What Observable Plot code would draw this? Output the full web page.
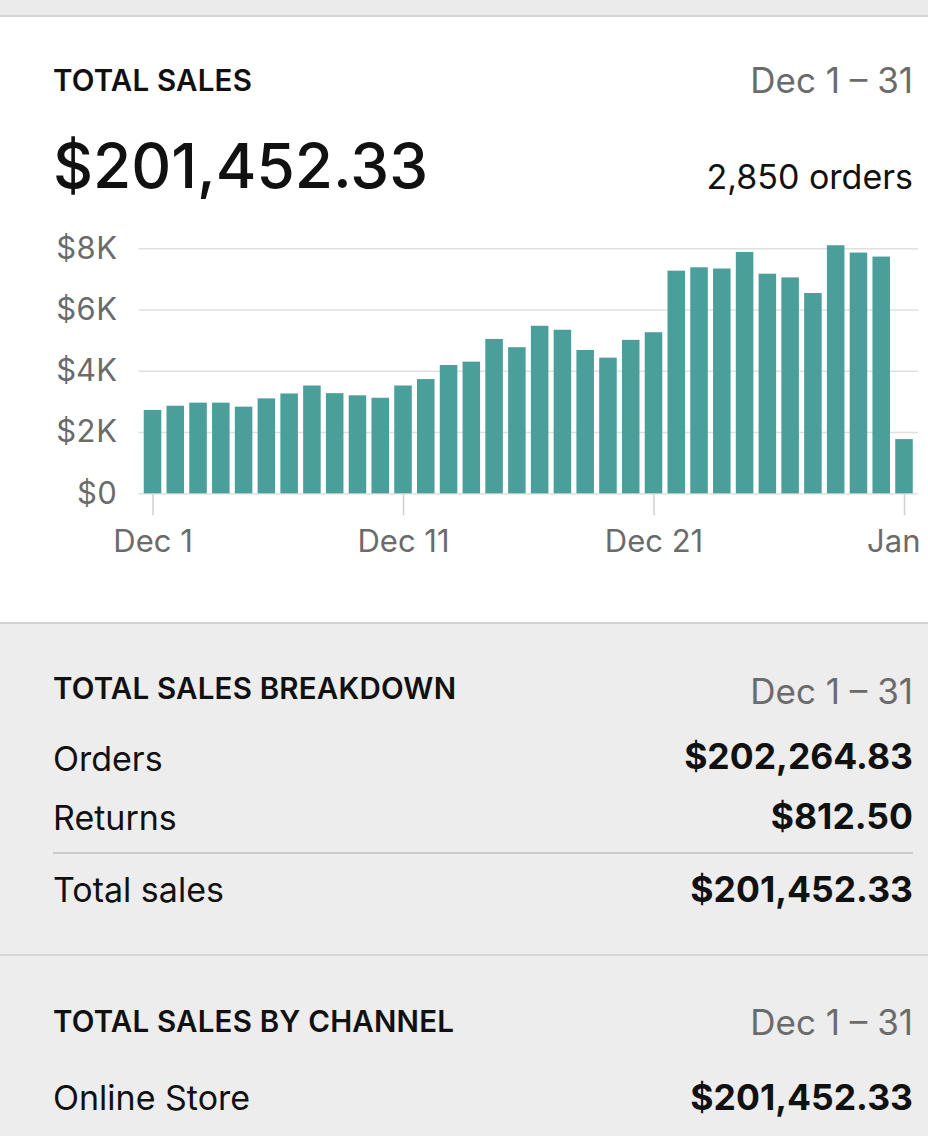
<!DOCTYPE html>
<html>
<head>
<meta charset="utf-8">
<script src="https://cdn.jsdelivr.net/npm/d3@7"></script>
<script src="https://cdn.jsdelivr.net/npm/@observablehq/plot@0.6"></script>
<style>
  html, body { margin: 0; padding: 0; }
  body { width: 928px; height: 1136px; overflow: hidden; position: relative; background: #ededed; font-family: Inter, "Noto Sans", sans-serif; color: #111; }
  .strip { position: absolute; left: 0; top: 0; width: 928px; height: 15px; background: #ebebeb; border-bottom: 2px solid #d6d6d6; }
  .card { position: absolute; left: 0; top: 17px; width: 928px; height: 605px; background: #fff; border-bottom: 2px solid #d2d2d2; }
  .t { position: absolute; white-space: nowrap; line-height: 50px; height: 50px; }
  .l { left: 53px; }
  .r { right: 15px; text-align: right; }
  .head { font-size: 29.5px; font-weight: 600; letter-spacing: 0.2px; }
  .range { font-size: 35px; color: #6b6b6b; font-weight: 400; }
  .label { font-size: 34px; font-weight: 400; }
  .val { font-size: 35.5px; font-weight: 700; }
  .hr { position: absolute; height: 2px; background: #cbcbcb; }
  #chart { position: absolute; left: 0; top: 220px; }
</style>
</head>
<body>
<div class="strip"></div>
<div class="card"></div>

<div class="t l head" style="top:55px">TOTAL SALES</div>
<div class="t r range" style="top:55px">Dec 1 – 31</div>
<div class="t l" style="top:131px;font-size:62px;line-height:70px;height:70px;font-weight:500">$201,452.33</div>
<div class="t r label" style="top:152px">2,850 orders</div>

<div id="chart"></div>

<div class="t l head" style="top:663px">TOTAL SALES BREAKDOWN</div>
<div class="t r range" style="top:666px">Dec 1 – 31</div>
<div class="t l label" style="top:734px">Orders</div>
<div class="t r val" style="top:732px">$202,264.83</div>
<div class="t l label" style="top:793px">Returns</div>
<div class="t r val" style="top:792px">$812.50</div>
<div class="hr" style="top:852px;left:53px;width:860px"></div>
<div class="t l label" style="top:865px">Total sales</div>
<div class="t r val" style="top:865px">$201,452.33</div>
<div class="hr" style="top:954px;left:0;width:928px;background:#d6d6d6"></div>

<div class="t l head" style="top:996px">TOTAL SALES BY CHANNEL</div>
<div class="t r range" style="top:997px">Dec 1 – 31</div>
<div class="t l label" style="top:1073px">Online Store</div>
<div class="t r val" style="top:1073px">$201,452.33</div>

<script>
// Daily sales (34 bars as drawn)
const days = [1, 2, 3, 4, 5, 6, 7, 8, 9, 10, 11, 12, 13, 14, 15, 16, 17,
              18, 19, 20, 21, 22, 23, 24, 25, 26, 27, 28, 29, 30, 31, 32, 33, 34];
const sales = [2720, 2860, 2960, 2960, 2830, 3100, 3260, 3520, 3270, 3200, 3120, 3520, 3730, 4190, 4300, 5040, 4770,
               5470, 5340, 4680, 4430, 5010, 5260, 7270, 7380, 7340, 7880, 7170, 7050, 6540, 8100, 7860, 7730, 1770];
const xTickDays = [1, 12, 23, 34];
const xTickLabels = ["Dec 1", "Dec 11", "Dec 21", "Jan 1"];
const yTicks = [0, 2000, 4000, 6000, 8000];
const yTickLabels = ["$0", "$2K", "$4K", "$6K", "$8K"];

const rows = days.map((d, i) => ({day: d, sales: sales[i]}));

const chart = Plot.plot({
  width: 928,
  height: 340,
  marginLeft: 138.5,
  marginRight: 10,
  marginTop: 28.3,
  marginBottom: 66.7,
  style: {fontFamily: "Inter, 'Noto Sans', sans-serif", fontSize: "31px", background: "transparent", overflow: "visible", color: "#6b6b6b"},
  x: {type: "band", domain: days, padding: 0.23, round: false, axis: null},
  y: {domain: [0, 8000], axis: null},
  marks: [
    Plot.ruleY(yTicks, {stroke: "#e0e0e0", strokeWidth: 1.5}),
    Plot.barY(rows, {x: "day", y: "sales", fill: "#4b9f9b"}),
    Plot.axisY(yTicks, {label: null, tickSize: 0, tickPadding: 22, fill: "#6b6b6b", tickFormat: d => yTickLabels[yTicks.indexOf(d)]}),
    Plot.axisX(xTickDays, {label: null, tickSize: 22, tickPadding: 14, stroke: "#d0d0d0", strokeWidth: 1.5, fill: "#6b6b6b", tickFormat: d => xTickLabels[xTickDays.indexOf(d)]})
  ]
});
document.getElementById("chart").appendChild(chart);
</script>
</body>
</html>
